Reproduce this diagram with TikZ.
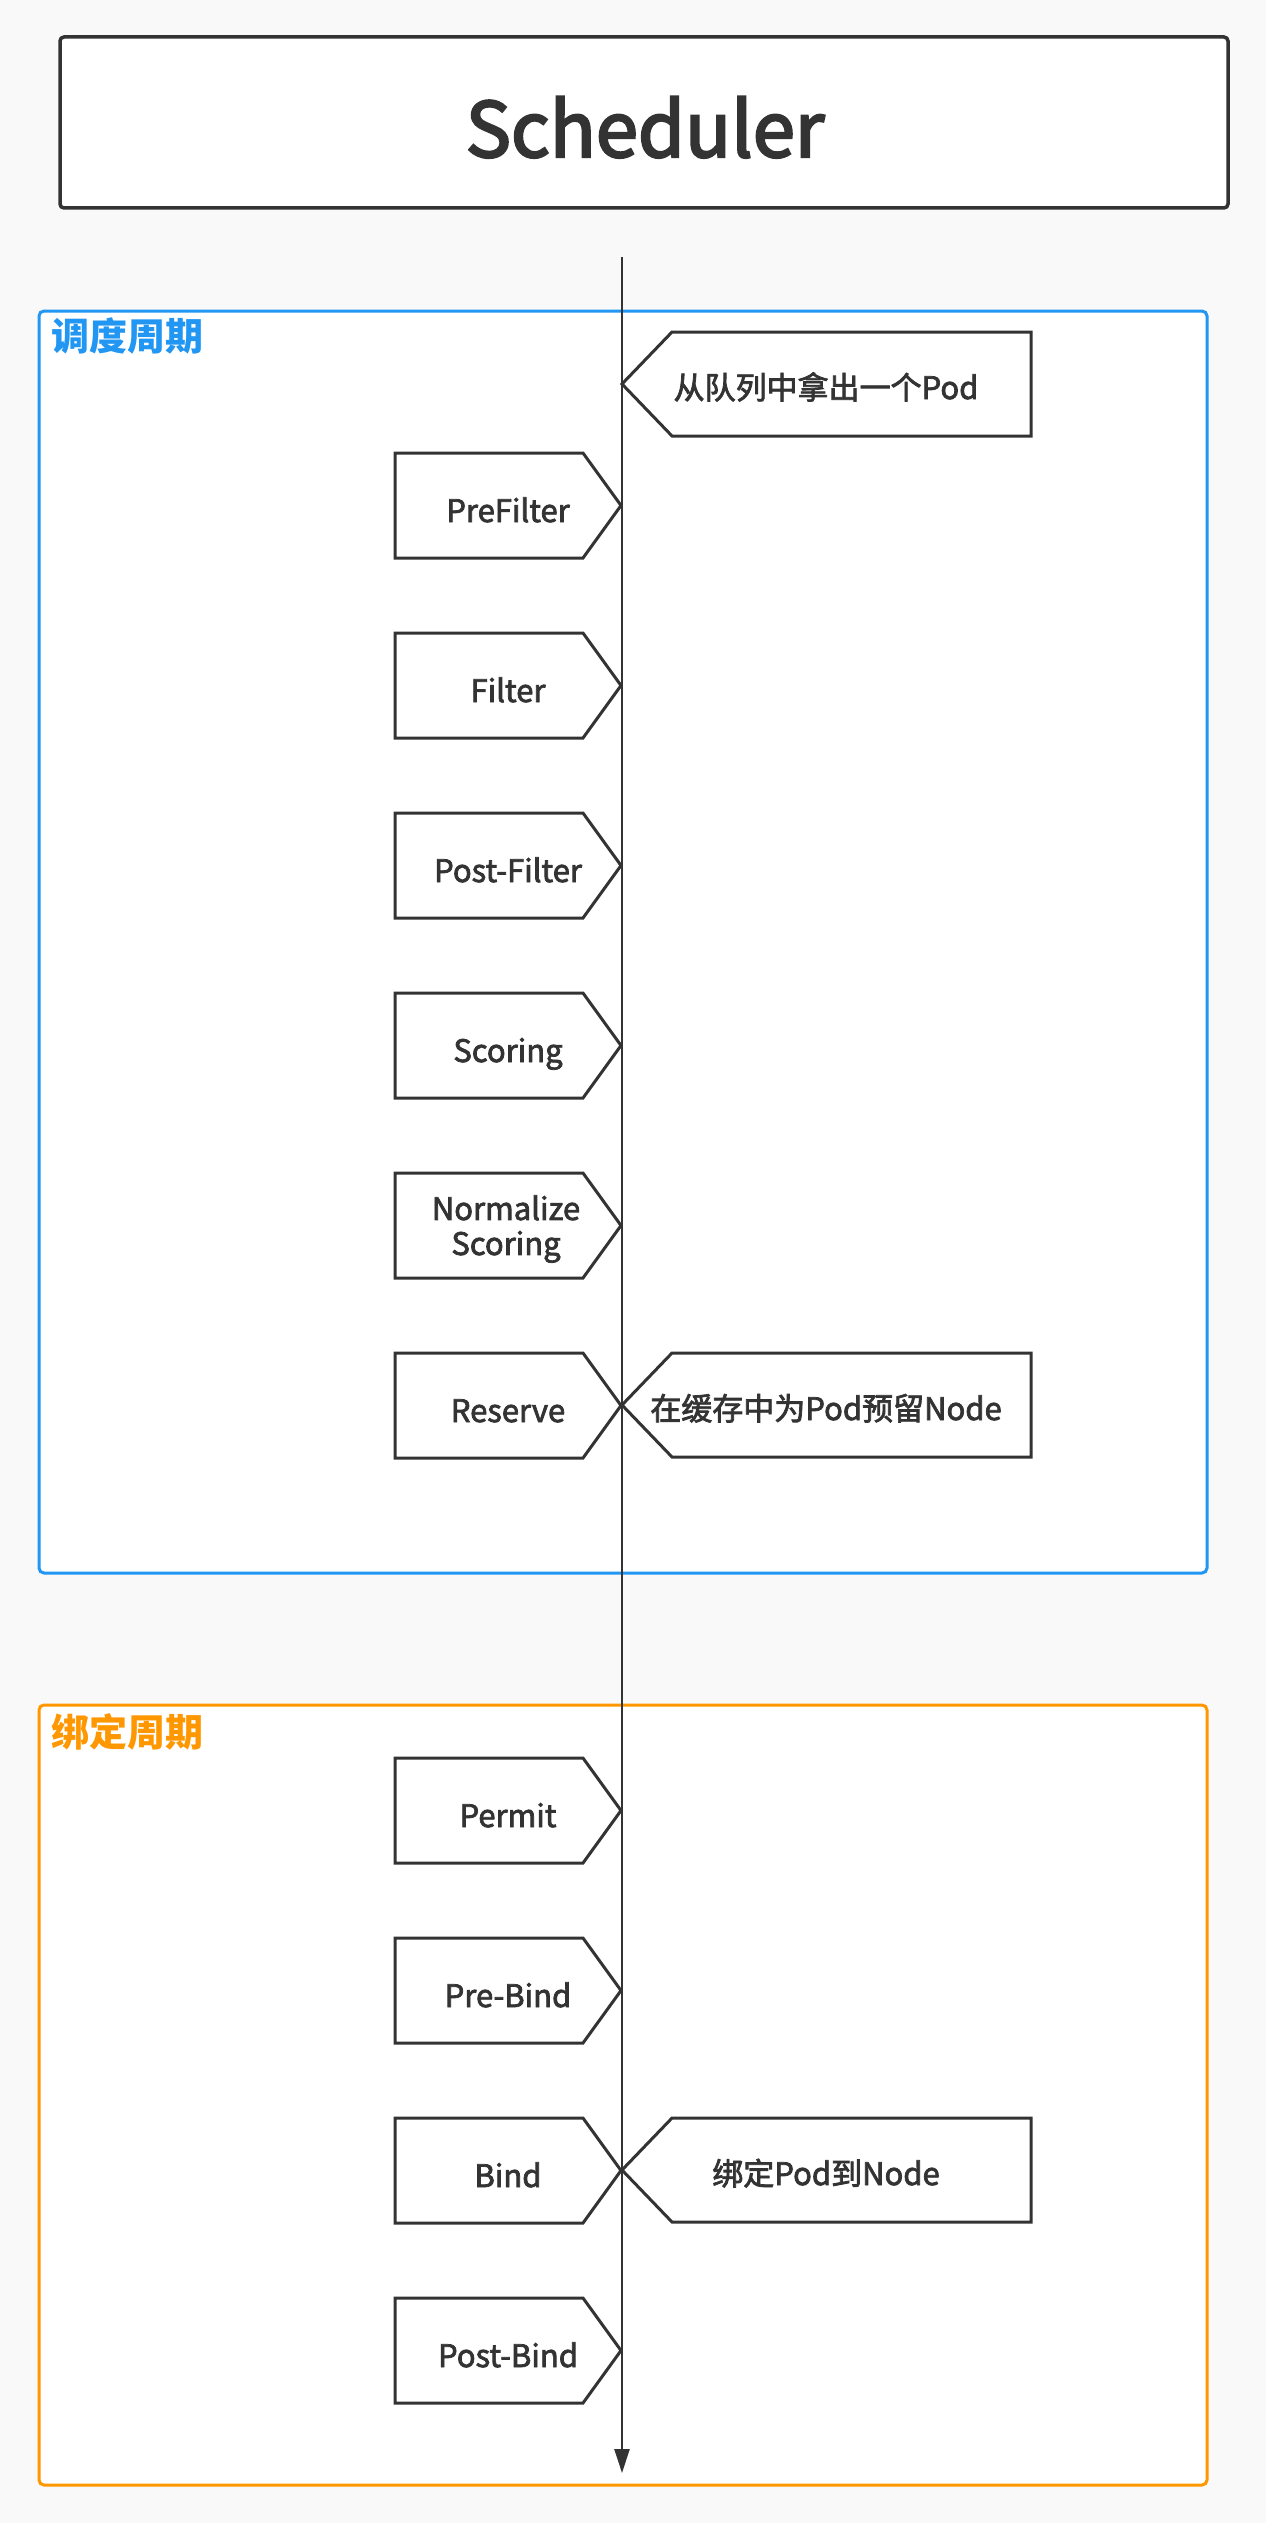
\documentclass[tikz,border=0pt]{standalone}
\usepackage{fontspec}
\setmainfont{Noto Sans CJK SC}
\newfontfamily\labelfont{Noto Sans CJK SC}[FakeBold=2.4]
\newfontfamily\headfont{Noto Sans CJK SC}[FakeBold=3]
\usetikzlibrary{arrows.meta}
\definecolor{ink}{HTML}{333333}
\definecolor{bgc}{HTML}{F9F9F9}
\definecolor{cycblue}{HTML}{2196F3}
\definecolor{cycorange}{HTML}{FF9800}
\tikzset{
  stagebox/.style={draw=ink, line width=3pt, fill=white, line join=miter},
  lbl/.style={text=ink, font=\labelfont\fontsize{31}{35}\selectfont, inner sep=0pt, anchor=base, align=center},
  phasebox/.style={line width=3pt, rounded corners=5pt, fill=white, inner sep=0pt},
  phasetitle/.style={anchor=base west, inner sep=0pt, font=\bfseries\fontsize{38}{38}\selectfont},
  schedbox/.style={draw=ink, line width=3.5pt, rounded corners=4pt, fill=white, inner sep=0pt,
    minimum width=1168pt, minimum height=171pt},
  flowline/.style={draw=ink, line width=2.5pt, -{Triangle[length=24pt,width=15pt]}},
}
\newcommand\LeftStage[3]{%
  \draw[stagebox] (395,#1) -- (583,#1) -- (621,#1+52.5) -- (583,#1+105) -- (395,#1+105) -- cycle;
  \node[lbl] (#2) at (508,#1+69) {#3};
}
\newcommand\RightNote[3]{%
  \draw[stagebox] (622,#1+52) -- (672,#1) -- (1031,#1) -- (1031,#1+104) -- (672,#1+104) -- cycle;
  \node[lbl] (#2) at (826,#1+67) {#3};
}
\begin{document}
\begin{tikzpicture}[x=1pt,y=-1pt]
\useasboundingbox (0,0) rectangle (1266,2523);
\fill[bgc] (0,0) rectangle (1266,2523);
% Scheduler header
\node[schedbox] (scheduler) at (644,122.5) {};
\node[text=ink, font=\headfont\fontsize{76}{76}\selectfont, inner sep=0pt, anchor=base] (schedtext) at (645,157) {Scheduler};
% phases
\node[phasebox, draw=cycblue, minimum width=1168pt, minimum height=1262pt] (schedcycle) at (623,942) {};
\node[phasetitle, text=cycblue] (schedtitle) at (51,350) {调度周期};
\node[phasebox, draw=cycorange, minimum width=1168pt, minimum height=780pt] (bindcycle) at (623,2095) {};
\node[phasetitle, text=cycorange] (bindtitle) at (51,1746) {绑定周期};
% stages
\LeftStage{453}{prefilter}{PreFilter}
\LeftStage{633}{filter}{Filter}
\LeftStage{813}{postfilter}{Post-Filter}
\LeftStage{993}{scoring}{Scoring}
\draw[stagebox] (395,1173) -- (583,1173) -- (621,1225.5) -- (583,1278) -- (395,1278) -- cycle;
\node[lbl, anchor=center] (normalize) at (506,1229) {Normalize\\Scoring};
\LeftStage{1353}{reserve}{Reserve}
\LeftStage{1758}{permit}{Permit}
\LeftStage{1938}{prebind}{Pre-Bind}
\LeftStage{2118}{bind}{Bind}
\LeftStage{2298}{postbind}{Post-Bind}
\RightNote{332}{popnote}{从队列中拿出一个Pod}
\RightNote{1353}{reservenote}{在缓存中为Pod预留Node}
\RightNote{2118}{bindnote}{绑定Pod到Node}
% flow line
\coordinate (flowstart) at (622,257);
\coordinate (flowend) at (622,2473);
\draw[flowline] (flowstart) -- (flowend);
\end{tikzpicture}
\end{document}
